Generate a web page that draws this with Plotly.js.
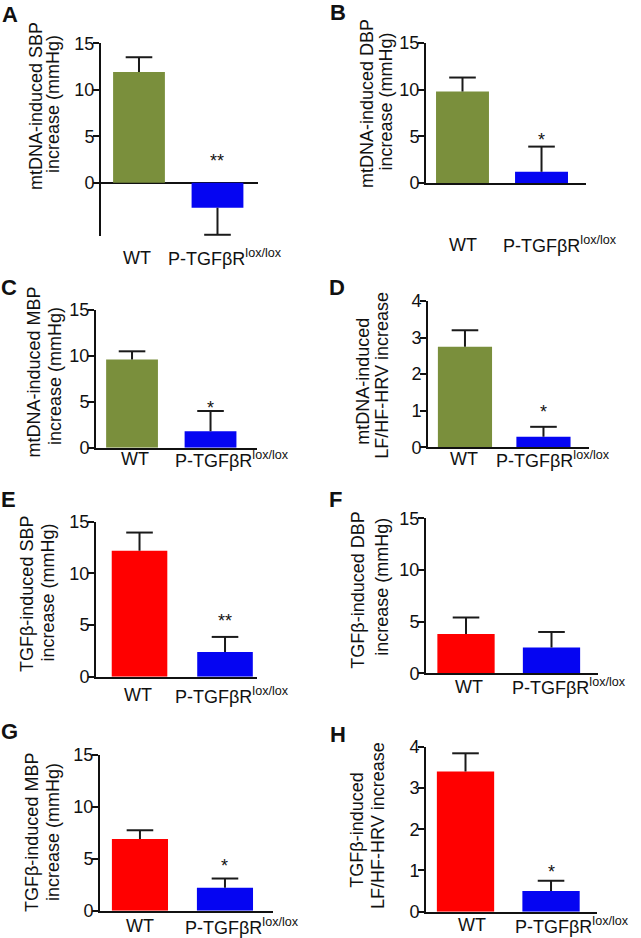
<!DOCTYPE html>
<html><head><meta charset="utf-8">
<script src="https://cdn.plot.ly/plotly-3.0.1.min.js"></script>
<style>html,body{margin:0;padding:0;background:#fff}#chart{width:641px;height:938px}</style>
</head><body><div id="chart"></div>
<script>
// ---------------- data ----------------
const categories = ['WT', 'P-TGFβR<sup>lox/lox</sup>'];
const panelLetters = ['A','B','C','D','E','F','G','H'];
const yTitleLine1 = ['mtDNA-induced SBP','mtDNA-induced DBP','mtDNA-induced MBP','mtDNA-induced',
                     'TGFβ-induced SBP','TGFβ-induced DBP','TGFβ-induced MBP','TGFβ-induced'];
const yTitleLine2 = ['increase (mmHg)','increase (mmHg)','increase (mmHg)','LF/HF-HRV increase',
                     'increase (mmHg)','increase (mmHg)','increase (mmHg)','LF/HF-HRV increase'];
const mtdnaSBP = [11.9, -2.7];   const mtdnaSBPsem = [1.6, 2.9];
const mtdnaDBP = [9.8, 1.2];     const mtdnaDBPsem = [1.5, 2.7];
const mtdnaMBP = [9.6, 1.8];     const mtdnaMBPsem = [0.9, 2.2];
const mtdnaHRV = [2.75, 0.29];   const mtdnaHRVsem = [0.45, 0.27];
const tgfSBP = [12.2, 2.4];      const tgfSBPsem = [1.75, 1.45];
const tgfDBP = [3.8, 2.5];       const tgfDBPsem = [1.6, 1.5];
const tgfMBP = [6.9, 2.2];       const tgfMBPsem = [0.85, 0.9];
const tgfHRV = [3.4, 0.5];       const tgfHRVsem = [0.44, 0.25];
const significance = ['**','*','*','*','**','','*','*'];
const tickVals15 = [0, 5, 10, 15];
const tickVals4 = [0, 1, 2, 3, 4];

const panelMeans = [mtdnaSBP, mtdnaDBP, mtdnaMBP, mtdnaHRV, tgfSBP, tgfDBP, tgfMBP, tgfHRV];
const panelSems = [mtdnaSBPsem, mtdnaDBPsem, mtdnaMBPsem, mtdnaHRVsem, tgfSBPsem, tgfDBPsem, tgfMBPsem, tgfHRVsem];
const panelTicks = [tickVals15, tickVals15, tickVals15, tickVals4, tickVals15, tickVals15, tickVals15, tickVals4];

// ---------------- styles / positions (pixels) ----------------
const W = 641, H = 938;
const GREEN = '#7A8F3C', BLUE = '#0505F2', RED = '#FF0000', INK = '#111111';
const FONT = 'Arial, "Liberation Sans", sans-serif';
const geom = [
  {x0:101,x1:258,top:43.3,bottom:235.7,ymin:-5.7, xr:[-0.484,1.516], bw:0.66, labY:258, sh:[-1.5,8],  t1:[36,106], t2:[53,104], let:[9.5,14.5], star:26,  wt:GREEN},
  {x0:426,x1:586,top:43,  bottom:183,  ymin:0,     xr:[-0.462,1.563], bw:0.67, labY:245, sh:[0.5,18],  t1:[367,104], t2:[385,101.5], let:[338,12.5], star:10.7, wt:GREEN},
  {x0:96, x1:257,top:310, bottom:447.7,ymin:0,     xr:[-0.459,1.592], bw:0.66, labY:459, sh:[3,21],    t1:[33,372.5], t2:[55,376], let:[9,287.5], star:7, wt:GREEN},
  {x0:428,x1:589,top:301, bottom:447.3,ymin:0,     xr:[-0.471,1.58],  bw:0.69, labY:459, sh:[-1,10],   t1:[362.7,381], t2:[381.7,375], let:[336.5,287.5], star:18.4, wt:GREEN},
  {x0:96, x1:257,top:521.7,bottom:676.7,ymin:0,    xr:[-0.509,1.374], bw:0.65, labY:695, sh:[-1.5,7],  t1:[27,594], t2:[47,592.5], let:[8.5,499], star:20, wt:RED},
  {x0:426,x1:598,top:518.3,bottom:673.3,ymin:0,    xr:[-0.468,1.544], bw:0.67, labY:686.7, sh:[3,17],  t1:[358,590.7], t2:[381.7,587], let:[335,499], star:0, wt:RED},
  {x0:100,x1:273,top:755, bottom:910.7,ymin:0,     xr:[-0.47,1.565],  bw:0.66, labY:926, sh:[0,17],    t1:[32,833], t2:[53,832], let:[9.5,731.5], star:16.6, wt:RED},
  {x0:426,x1:596.7,top:746.7,bottom:911.7,ymin:0,  xr:[-0.462,1.534], bw:0.67, labY:925, sh:[6,21],    t1:[356.7,830], t2:[378,826], let:[338,734], star:12.4, wt:RED}
];
const px = v => v / W;
const py = v => 1 - v / H;

const traces = [];
const layout = {
  width: W, height: H, margin: {l:0, r:0, t:0, b:0},
  paper_bgcolor: '#fff', plot_bgcolor: '#fff', showlegend: false, hovermode: false,
  font: {family: FONT, color: INK, size: 18}, annotations: []
};

panelMeans.forEach((means, i) => {
  const g = geom[i];
  const sems = panelSems[i];
  const s = i === 0 ? '' : String(i + 1);
  const xa = 'x' + s, ya = 'y' + s;
  const ticks = panelTicks[i];
  const ends = means.map((m, k) => m >= 0 ? m + sems[k] : m - sems[k]);

  traces.push({type:'bar', x:[0,1], y:means, width:g.bw, xaxis:xa, yaxis:ya,
    marker:{color:[g.wt, BLUE], line:{width:0}}, hoverinfo:'skip'});
  const sx = [], sy = [];
  means.forEach((m, k) => { sx.push(k, k, k); sy.push(m, ends[k], null); });
  traces.push({type:'scatter', mode:'lines', x:sx, y:sy, xaxis:xa, yaxis:ya,
    line:{color:'#1a1a1a', width:2}, hoverinfo:'skip', connectgaps:false});
  traces.push({type:'scatter', mode:'markers', x:[0,1], y:ends, xaxis:xa, yaxis:ya, cliponaxis:false,
    marker:{symbol:'line-ew-open', size:19, color:'#1a1a1a', line:{width:2, color:'#1a1a1a'}}, hoverinfo:'skip'});

  layout['xaxis' + s] = {
    domain:[px(g.x0), px(g.x1)], anchor: ya, type:'linear', range:g.xr,
    showticklabels:false, ticks:'', showgrid:false, zeroline:false,
    showline: g.ymin === 0, linecolor: INK, linewidth: 2, fixedrange:true
  };
  layout['yaxis' + s] = {
    domain:[py(g.bottom), py(g.top)], anchor: xa, range:[g.ymin, ticks[ticks.length-1]],
    tickvals: ticks, ticktext: ticks.map(String), ticks:'outside', ticklen:6, tickwidth:2, tickcolor:INK,
    ticklabelstandoff: -5,
    tickfont:{size:18, family:FONT, color:INK}, showgrid:false,
    zeroline: g.ymin < 0, zerolinecolor: INK, zerolinewidth: 2,
    showline:true, linecolor:INK, linewidth:2, fixedrange:true
  };

  // panel letter
  layout.annotations.push({xref:'paper', yref:'paper', x:px(g.let[0]), y:py(g.let[1]), text:panelLetters[i],
    showarrow:false, xanchor:'center', yanchor:'middle', font:{size:22, family:FONT, weight:'bold', color:INK}});
  // y titles (two lines)
  layout.annotations.push({xref:'paper', yref:'paper', x:px(g.t1[0]), y:py(g.t1[1]), text:yTitleLine1[i],
    textangle:-90, showarrow:false, xanchor:'center', yanchor:'middle', font:{size:18, family:FONT, color:INK}});
  layout.annotations.push({xref:'paper', yref:'paper', x:px(g.t2[0]), y:py(g.t2[1]), text:yTitleLine2[i],
    textangle:-90, showarrow:false, xanchor:'center', yanchor:'middle', font:{size:18, family:FONT, color:INK}});
  // category labels
  categories.forEach((c, k) => {
    layout.annotations.push({xref:xa, yref:'paper', x:k, y:py(g.labY), xshift:g.sh[k], text:c,
      showarrow:false, xanchor:'center', yanchor:'middle', font:{size:18, family:FONT, color:INK}});
  });
  // significance
  if (significance[i]) {
    layout.annotations.push({xref:xa, yref:ya, x:1, y:Math.max(ends[1], 0), yshift:g.star - 4,
      text:significance[i], showarrow:false, xanchor:'center', yanchor:'middle',
      font:{size:18, family:FONT, color:INK}});
  }
});

Plotly.newPlot('chart', traces, layout, {displayModeBar:false, staticPlot:true}).then(() => {
  document.querySelectorAll('text.xtitle, text.ytitle').forEach(t => { if (!t.textContent.trim()) t.remove(); });
});
</script></body></html>
